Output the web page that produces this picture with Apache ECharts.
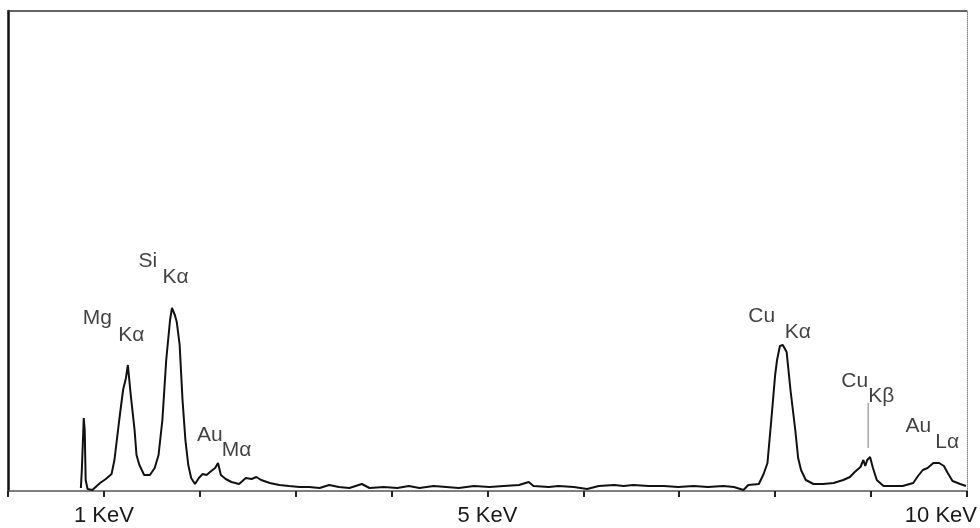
<!DOCTYPE html>
<html>
<head>
<meta charset="utf-8">
<script src="https://cdn.jsdelivr.net/npm/echarts@6/dist/echarts.min.js"></script>
<style>html,body{margin:0;padding:0;background:#fff;}#c{width:980px;height:528px;}</style>
</head>
<body>
<div id="c"></div>
<script>
// Spectrum: energy (keV) and counts (arbitrary units)
var energies = [0.76,0.77,0.79,0.80,0.81,0.83,0.88,
0.96,1.02,1.08,1.11,1.16,1.20,1.23,1.25,1.28,1.32,1.34,1.37,1.42,1.48,
1.53,1.57,1.61,1.65,1.69,1.71,1.74,1.76,1.79,1.82,1.85,1.88,1.91,1.95,
1.99,2.03,2.07,2.12,2.16,2.19,2.22,2.27,2.33,2.41,2.48,2.54,2.59,2.64,
2.73,2.83,2.93,3.04,3.14,3.25,3.35,3.45,3.56,3.69,3.77,3.92,4.06,
4.18,4.29,4.44,4.57,4.70,4.86,5.02,5.17,5.33,5.43,5.48,5.64,5.74,5.90,
6.04,6.16,6.32,6.42,6.52,6.68,6.84,6.99,7.15,7.30,7.46,7.57,7.67,
7.72,7.83,7.88,7.92,7.96,8.00,8.02,8.05,8.08,8.12,8.16,8.21,8.24,8.27,8.32,
8.40,8.50,8.61,8.71,8.78,8.83,8.89,8.92,8.94,8.96,8.99,9.02,9.06,
9.13,9.23,9.33,9.44,9.49,9.54,9.59,9.65,9.71,9.76,9.80,9.85,9.93,9.99];
var counts = [3,21,73,61,11,2,1,
8,12,17,31,71,101,113,126,96,61,36,26,16,16,
23,36,71,131,171,183,176,169,146,91,51,26,13,7,
13,17,16,20,23,28,16,12,9,7,13,12,14,11,
8,6,5,4,4,3,6,4,3,7,3,4,3,
5,3,5,4,3,5,4,5,6,9,5,4,5,4,
2,5,6,5,6,5,5,4,5,4,5,4,1,
6,7,17,28,71,116,131,145,146,139,101,61,33,21,11,
7,7,8,11,14,19,24,31,25,31,34,23,11,
5,5,5,8,15,21,23,28,28,25,18,10,7,5];

// Tick labels shown on the energy axis
var tickLabels = {1: '1 KeV', 5: '5 KeV', 10: '10 KeV'};

// Peak annotations: element symbol and its anchor (energy, count)
var peakElements = ['Mg','Si','Au','Cu','Cu','Au'];
var peakLabelE = [0.78,1.36,1.97,7.72,8.69,9.36];
var peakLabelY = [183,240,66,185,120,75];
// Line subscripts and their anchors
var peakLines = ['Kα','Kα','Mα','Kα','Kβ','Lα'];
var lineLabelE = [1.15,1.61,2.23,8.10,8.97,9.67];
var lineLabelY = [166,224,51,169,105,59];

// Cu Kβ marker line
var markerE = [8.97, 8.97];
var markerY = [88, 43];

var spectrum = energies.map(function(e,i){return [e, counts[i]];});
var elementData = peakElements.map(function(t,i){ return {value:[peakLabelE[i], peakLabelY[i]], txt:t}; });
var lineData = peakLines.map(function(t,i){ return {value:[lineLabelE[i], lineLabelY[i]], txt:t}; });
var markerData = markerE.map(function(e,i){return [e, markerY[i]];});

var chart = echarts.init(document.getElementById('c'), null, {renderer:'canvas'});
var font = 'Liberation Sans';
function textSeries(data){
  return {
    type: 'scatter', data: data, symbolSize: 0, silent: true, z: 5,
    itemStyle: {color: '#111'},
    label: {
      show: true, position: [0, 0], align: 'left', verticalAlign: 'top',
      fontFamily: font, fontSize: 21, color: '#111',
      formatter: function(p){ return p.data.txt; }
    }
  };
}
chart.setOption({
  animation: false,
  backgroundColor: '#ffffff',
  grid: {left: 8, right: 11, top: 11, bottom: 37, show: false},
  xAxis: [{
    type: 'value', min: 0, max: 10, interval: 1, position: 'bottom',
    axisLine: {show: true, onZero: false, lineStyle: {color: '#555', width: 1.5}},
    axisTick: {show: true, inside: false, length: 6, lineStyle: {color: '#222', width: 2}},
    splitLine: {show: false},
    axisLabel: {
      show: true, margin: 14, fontFamily: font, fontSize: 22, color: '#1a1a1a',
      showMinLabel: true, showMaxLabel: true,
      formatter: function(v){
        if (v === 10) return '{r|' + tickLabels[v] + '}';
        return tickLabels[v] ? '{n|' + tickLabels[v] + '}' : '';
      },
      rich: {
        n: {fontFamily: font, fontSize: 22, color: '#1a1a1a'},
        r: {fontFamily: font, fontSize: 22, color: '#1a1a1a', padding: [0, 52, 0, 0]}
      }
    }
  }, {
    type: 'value', min: 0, max: 10, position: 'top',
    axisLine: {show: true, onZero: false, lineStyle: {color: '#333', width: 1.5}},
    axisTick: {show: false}, axisLabel: {show: false}, splitLine: {show: false}
  }],
  yAxis: [{
    type: 'value', min: 0, max: 480, position: 'left',
    axisLine: {show: true, onZero: false, lineStyle: {color: '#111', width: 2.5}},
    axisTick: {show: false}, axisLabel: {show: false}, splitLine: {show: false}
  }, {
    type: 'value', min: 0, max: 480, position: 'right',
    axisLine: {show: true, onZero: false, lineStyle: {color: '#888', width: 1, type: 'dotted'}},
    axisTick: {show: false}, axisLabel: {show: false}, splitLine: {show: false}
  }],
  series: [{
    type: 'line', data: spectrum, showSymbol: false, symbol: 'none',
    lineStyle: {color: '#111', width: 2}, smooth: false, z: 3
  }, {
    type: 'line', data: markerData, showSymbol: false, symbol: 'none',
    lineStyle: {color: '#777', width: 1}
  }, textSeries(elementData), textSeries(lineData)]
});
</script>
</body>
</html>
